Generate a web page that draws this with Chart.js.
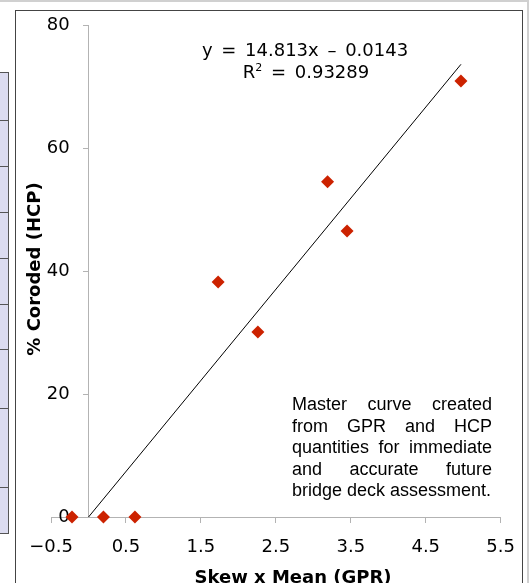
<!DOCTYPE html>
<html>
<head>
<meta charset="utf-8">
<script src="https://cdn.jsdelivr.net/npm/chart.js@4/dist/chart.umd.min.js"></script>
<style>
  html, body { margin: 0; padding: 0; background: #fff; }
  body { width: 529px; height: 583px; overflow: hidden; position: relative; }
  #chart { position: absolute; left: 0; top: 0; }
  .txt { position: absolute; color: #000; white-space: nowrap; }
  .dv { font-family: "DejaVu Sans", Verdana, sans-serif; font-size: 18px; line-height: 18px; }
  .eq { width: 300px; text-align: center; word-spacing: 3px; }
  .note { font-family: "Liberation Sans", Arial, sans-serif; font-size: 18px; line-height: 21.6px;
          width: 200px; text-align: justify; white-space: normal; }
  .ttl { font-weight: bold; text-align: center; }
  sup { font-size: 11px; line-height: 0; vertical-align: 7px; }
  .frame { position: absolute; background: #444; }
  .side { position: absolute; left: 0; width: 8px; background: #dcdcf0; border-right: 1px solid #555; }
  .row { position: absolute; left: 0; width: 9px; height: 1px; background: #555; }
</style>
</head>
<body>
<!-- surrounding page frame -->
<div class="frame" style="left:0;top:0;width:529px;height:2px;background:#d0d0d0"></div>
<div class="frame" style="left:15px;top:10px;width:508px;height:1px"></div>
<div class="frame" style="left:15px;top:10px;width:1px;height:573px"></div>
<div class="frame" style="left:522px;top:10px;width:1px;height:573px"></div>
<div class="frame" style="left:527px;top:0;width:2px;height:583px;background:#d0d0d0"></div>
<div class="side" style="top:72px;height:461px"></div>
<div id="rows"></div>

<canvas id="chart" width="529" height="583"></canvas>

<div class="txt dv eq" style="left:155px;top:41px">y = 14.813x – 0.0143</div>
<div class="txt dv eq" style="left:156px;top:63px">R<sup>2</sup> = 0.93289</div>
<div class="txt note" style="left:292px;top:394px">Master curve created from GPR and HCP quantities for immediate and accurate future bridge deck assessment.</div>
<div class="txt dv ttl" style="left:143px;top:568px;width:300px">Skew x Mean (GPR)</div>
<div class="txt dv ttl" style="left:-116px;top:260px;width:300px;transform:rotate(-90deg)">% Coroded (HCP)</div>

<script>
// measured points
const skewMean = [-0.22, 0.2, 0.62, 1.73, 2.26, 3.19, 3.45, 4.97];
const pctCorroded = [0, 0, 0, 38.2, 30.1, 54.5, 46.5, 70.9];

// linear trendline from the chart
const slope = 14.813;
const intercept = -0.0143;
const trendX = [0.001, 4.97];

const xTicks = [-0.5, 0.5, 1.5, 2.5, 3.5, 4.5, 5.5];
const yTicks = [0, 20, 40, 60, 80];

// row lines of the table sticking in on the left
const sideRows = [72, 120, 166, 212, 258, 304, 349, 408, 487, 533];
const rowsEl = document.getElementById('rows');
sideRows.forEach(y => {
    const d = document.createElement('div');
    d.className = 'row';
    d.style.top = y + 'px';
    rowsEl.appendChild(d);
});

const axisGray = '#b3b3b3';
const tickFont = { family: 'DejaVu Sans', size: 18 };
const fmt = v => (v < 0 ? '\u2212' + Math.abs(v) : String(v));

new Chart(document.getElementById('chart'), {
    type: 'scatter',
    data: {
        datasets: [
            {
                label: 'HCP vs GPR',
                data: skewMean.map((x, i) => ({ x: x, y: pctCorroded[i] })),
                pointStyle: 'rectRot',
                pointRadius: 6.5,
                backgroundColor: '#cc2200',
                borderColor: '#cc2200',
                borderWidth: 0,
                clip: false
            },
            {
                label: 'Linear fit',
                data: trendX.map(x => ({ x: x, y: slope * x + intercept })),
                showLine: true,
                pointRadius: 0,
                borderColor: '#000',
                borderWidth: 1,
                clip: false
            }
        ]
    },
    options: {
        responsive: false,
        animation: false,
        layout: { padding: { left: 51, right: 26, top: 25, bottom: 0 } },
        plugins: { legend: { display: false }, tooltip: { enabled: false } },
        scales: {
            x: {
                type: 'linear',
                position: 'bottom',
                min: -0.5,
                max: 5.5,
                afterBuildTicks: s => { s.ticks = xTicks.map(v => ({ value: v })); },
                afterFit: s => { s.height = 66; },
                grid: { drawOnChartArea: false, tickLength: 6, color: axisGray },
                border: { color: axisGray },
                ticks: { font: tickFont, color: '#000', padding: 14, maxRotation: 0, autoSkip: false, callback: v => fmt(v) }
            },
            // axis line and tick marks, crossing at x = 0
            y: {
                type: 'linear',
                position: { x: 0 },
                min: 0,
                max: 80,
                afterBuildTicks: s => { s.ticks = yTicks.map(v => ({ value: v })); },
                grid: { drawOnChartArea: false, tickLength: 5, color: axisGray },
                border: { color: axisGray },
                ticks: { display: false }
            },
            // tick labels, set a little left of the axis line
            yLabels: {
                type: 'linear',
                position: { x: -0.25 },
                min: 0,
                max: 80,
                z: 1,
                afterBuildTicks: s => { s.ticks = yTicks.map(v => ({ value: v })); },
                grid: { display: false },
                border: { display: false },
                ticks: { font: tickFont, color: '#000', callback: v => fmt(v) }
            }
        }
    }
});
</script>
</body>
</html>
